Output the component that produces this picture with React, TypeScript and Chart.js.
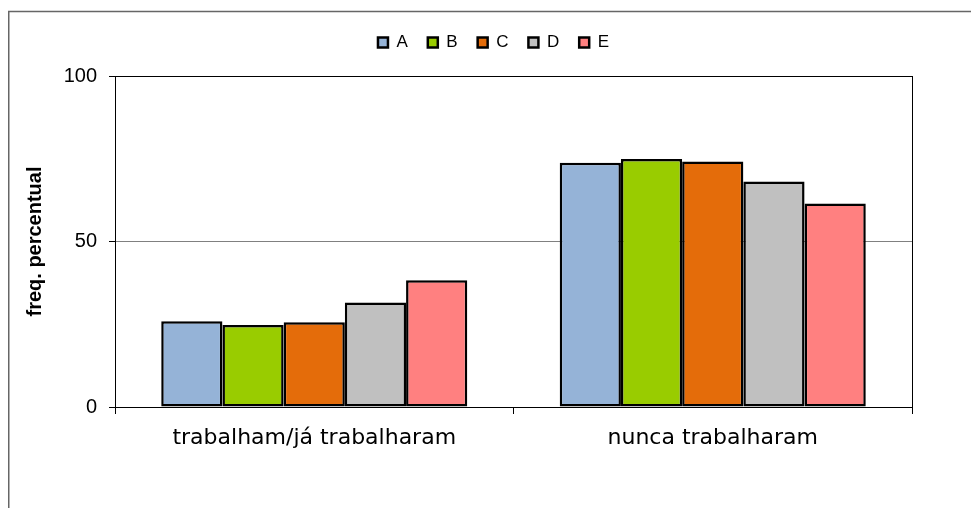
import React, { useEffect, useRef } from "react";
import { Chart, registerables } from "chart.js";

Chart.register(...registerables);

const categories = ["trabalham/já trabalharam", "nunca trabalharam"];
const seriesNames = ["A", "B", "C", "D", "E"];
const valuesA = [25.9, 73.8];
const valuesB = [24.8, 74.9];
const valuesC = [25.6, 74.2];
const valuesD = [31.6, 68.1];
const valuesE = [38.3, 61.5];
const yTicks = [0, 50, 100];
const yTitle = "freq. percentual";

const seriesValues = [valuesA, valuesB, valuesC, valuesD, valuesE];
const seriesColors = ["#95B3D7", "#99CC00", "#E46C0A", "#C0C0C0", "#FF8080"];

const framePlugin = {
  id: "outerFrame",
  beforeDraw(chart: any) {
    const { ctx, width, height } = chart;
    ctx.save();
    ctx.strokeStyle = "#666";
    ctx.lineWidth = 1.5;
    ctx.beginPath();
    ctx.moveTo(0.75, height);
    ctx.lineTo(0.75, 3.5);
    ctx.lineTo(width, 3.5);
    ctx.stroke();
    ctx.restore();
  },
};

export default function App() {
  const ref = useRef<HTMLCanvasElement | null>(null);

  useEffect(() => {
    if (!ref.current) return;
    const chart = new Chart(ref.current, {
      type: "bar",
      data: {
        labels: categories,
        datasets: seriesNames.map((name, i) => ({
          label: name,
          data: seriesValues[i],
          backgroundColor: seriesColors[i],
          borderColor: "#000",
          borderWidth: 2.5,
          borderSkipped: false,
          categoryPercentage: 0.768,
          barPercentage: 1.0,
        })),
      },
      options: {
        animation: false,
        responsive: true,
        maintainAspectRatio: false,
        color: "#000",
        layout: { padding: { top: 6, left: 0, right: 0, bottom: 0 } },
        plugins: {
          legend: {
            position: "top",
            labels: {
              boxWidth: 10,
              boxHeight: 10,
              padding: 20,
              color: "#000",
              font: { family: "'Liberation Sans', Arial, sans-serif", size: 17 },
            },
          },
          subtitle: {
            display: true,
            text: "",
            position: "top",
            weight: 500,
            font: { size: 10, lineHeight: 1 },
            padding: { top: 0, bottom: 5 },
          },
          tooltip: { enabled: false },
        },
        scales: {
          x: {
            grid: {
              offset: true,
              drawOnChartArea: true,
              color: (c: any) => (c.index === 1 ? "rgba(0,0,0,0)" : "#000"),
              tickColor: "#000",
              tickLength: 7,
              lineWidth: 1,
            },
            border: { display: true, color: "#000", width: 1 },
            ticks: {
              color: "#000",
              padding: 11,
              font: { family: "'DejaVu Sans', sans-serif", size: 22 },
            },
            afterFit: (s: any) => {
              s.height = 101;
            },
          },
          y: {
            min: 0,
            max: 100,
            afterBuildTicks: (axis: any) => {
              axis.ticks = yTicks.map((v) => ({ value: v }));
            },
            grid: {
              color: (c: any) => (c.tick && c.tick.value === 100 ? "#000" : "#808080"),
              tickColor: "#000",
              tickLength: 6,
              lineWidth: 1,
            },
            border: { display: true, color: "#000", width: 1 },
            ticks: {
              color: "#000",
              padding: 12,
              font: { family: "'Liberation Sans', Arial, sans-serif", size: 20 },
            },
            title: {
              display: true,
              text: yTitle,
              color: "#000",
              padding: { top: 15, bottom: 0 },
              font: { family: "'Liberation Sans', Arial, sans-serif", size: 20, weight: "bold" },
            },
            afterFit: (s: any) => {
              s.width = 107;
            },
          },
          yRight: {
            type: "linear",
            position: "right",
            display: true,
            grid: { display: false },
            border: { display: false },
            ticks: { display: false },
            afterFit: (s: any) => {
              s.width = 67;
            },
          },
        },
      },
      plugins: [framePlugin],
    } as any);
    return () => chart.destroy();
  }, []);

  return (
    <div style={{ width: "971px", height: "500px", position: "relative" }}>
      <canvas ref={ref} />
    </div>
  );
}
